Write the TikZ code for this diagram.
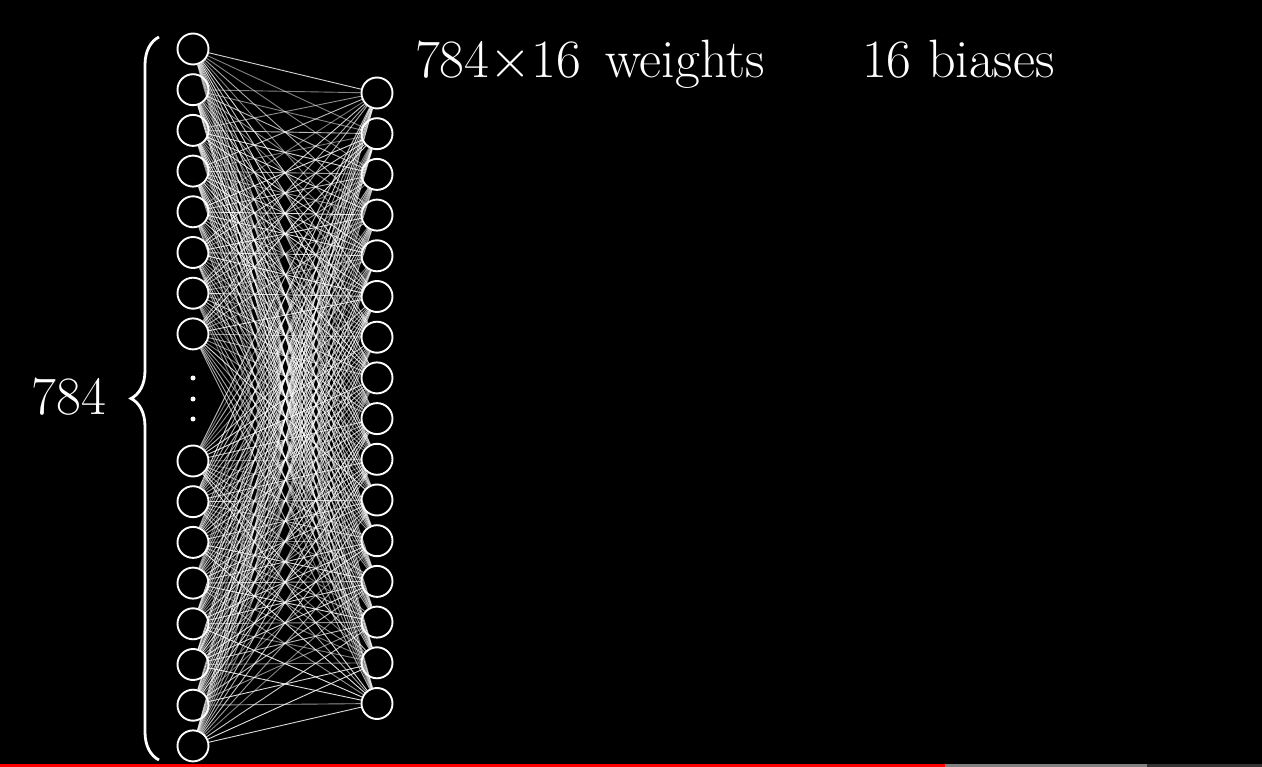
\RequirePackage{fix-cm}
\documentclass[tikz,border=0pt]{standalone}
\usetikzlibrary{decorations.pathreplacing}
\begin{document}
\begin{tikzpicture}[x=1pt,y=-1pt,
  neuron/.style={circle,draw=white,fill=black,line width=1.9pt,minimum size=31pt,inner sep=0pt},
  edge/.style={white,line width=0.9pt},
  label/.style={text=white,font=\fontsize{54}{64}\selectfont,inner sep=0pt},
  dotmark/.style={circle,fill=white,minimum size=5pt,inner sep=0pt}]
\useasboundingbox (0,0) rectangle (1262,767);
\fill[black] (0,0) rectangle (1262,767);
% progress bar
\fill[red] (0,764) rectangle (945,767);
\fill[gray] (945,764) rectangle (1147,767);
\fill[black!80] (1147,764) rectangle (1262,767);
% input neurons
\foreach \i in {1,...,8} {
  \node[neuron] (L\i) at (193,{49+40.7*(\i-1)}) {};
}
\foreach \i in {9,...,16} {
  \node[neuron] (L\i) at (193,{461+40.7*(\i-9)}) {};
}
% hidden neurons
\foreach \j in {1,...,16} {
  \node[neuron] (R\j) at (377,{93+40.7*(\j-1)}) {};
}
% dots
\node[dotmark] (d1) at (193,378) {};
\node[dotmark] (d2) at (193,399) {};
\node[dotmark] (d3) at (193,419) {};
% edges
\pgfmathsetseed{7}
\foreach \i in {1,...,16} {
  \foreach \j in {1,...,16} {
    \pgfmathsetmacro{\op}{0.45+0.45*rnd}
    \draw[edge,opacity=\op] (L\i) -- (R\j);
  }
}
% brace
\coordinate (bb) at (159,760);
\coordinate (bt) at (159,37);
\draw[white,line width=2.8pt,decorate,decoration={brace,amplitude=28pt}] (bb) -- (bt);
\node[label,anchor=base] (n784) at (69,415) {784};
% top labels
\node[label,anchor=base west] (w1) at (415,78) {$784{\times}16$};
\node[label,anchor=base west] (w2) at (605,78) {weights};
\node[label,anchor=base west] (b1) at (862,78) {16 biases};
\end{tikzpicture}
\end{document}
